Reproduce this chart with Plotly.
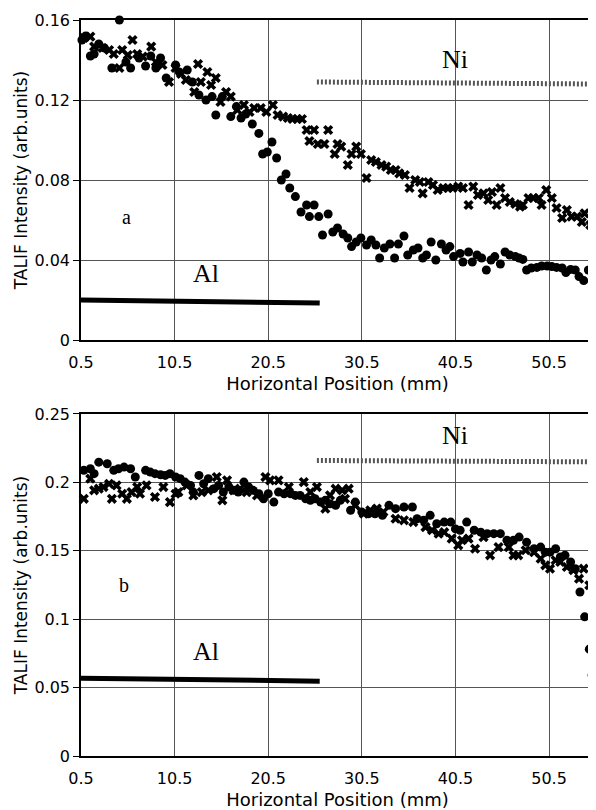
import plotly.graph_objects as go

# PANEL A - puntos (circulos) y cruces
a_dot_x = [0.6, 1.0, 1.5, 1.9, 2.4, 3.0, 3.8, 4.6, 5.3, 5.8, 6.7, 7.4, 7.95, 8.5, 9.0, 9.6, 10.6, 11.0,
           11.85, 12.4, 13.1, 13.85, 14.5, 14.9, 15.6, 16.5, 17.1, 17.6, 18.1, 18.8, 19.5, 19.9, 20.4,
           20.9, 21.4, 21.9, 22.4, 22.8, 23.4, 24.0, 24.6, 24.9, 25.4, 25.9, 26.3, 26.9, 27.4, 27.9,
           28.5, 29.0, 29.4, 29.9, 30.4, 31.0, 31.5, 32.0, 32.4, 32.9, 33.5, 34.0, 34.4, 35.0, 35.4,
           36.0, 36.5, 37.0, 37.4, 37.9, 38.4, 39.0, 39.5, 39.9, 40.3, 41.0, 41.3, 41.9, 42.3, 42.8,
           43.3, 43.8, 44.3, 44.7, 45.3, 45.8, 46.3, 46.9, 47.3, 47.7, 48.1, 48.6, 49.2, 49.7, 50.3,
           50.8, 51.3, 51.9, 52.3, 52.8, 53.3, 53.7, 54.2, 54.7, 55.2]
a_dot_y = [0.150, 0.152, 0.142, 0.143, 0.148, 0.146, 0.136, 0.160, 0.139, 0.136, 0.141, 0.137, 0.142,
           0.136, 0.141, 0.131, 0.1375, 0.134, 0.135, 0.129, 0.1225, 0.120, 0.1217, 0.1125, 0.1217,
           0.1117, 0.1167, 0.111, 0.113, 0.108, 0.1033, 0.093, 0.094, 0.099, 0.091, 0.080, 0.083,
           0.076, 0.0717, 0.064, 0.0675, 0.0617, 0.0675, 0.0617, 0.0525, 0.063, 0.054, 0.056, 0.053,
           0.051, 0.0467, 0.049, 0.051, 0.0475, 0.050, 0.0475, 0.041, 0.046, 0.048, 0.041, 0.048,
           0.052, 0.0425, 0.045, 0.046, 0.041, 0.0425, 0.049, 0.040, 0.048, 0.045, 0.0467, 0.0417,
           0.0433, 0.039, 0.044, 0.039, 0.0425, 0.041, 0.035, 0.040, 0.0417, 0.038, 0.044, 0.0425,
           0.0417, 0.041, 0.0403, 0.035, 0.036, 0.0363, 0.037, 0.037, 0.0367, 0.0363, 0.036, 0.0337,
           0.0353, 0.035, 0.0317, 0.0297, 0.035, 0.0367]

a_cross_x = [0.8, 1.5, 1.9, 2.8, 3.5, 4.0, 4.6, 4.9, 5.5, 6.0, 6.5, 7.1, 8.0, 8.5, 9.2, 9.9, 10.6, 11.2,
             11.7, 12.6, 13.0, 13.3, 14.0, 14.4, 14.9, 15.4, 16.0, 16.5, 17.2, 17.9, 18.5, 19.0, 19.7,
             20.3, 21.0, 21.5, 22.1, 22.6, 23.1, 23.6, 24.1, 24.6, 24.9, 25.4, 25.8, 26.5, 26.9, 27.6,
             27.9, 28.3, 29.0, 29.4, 29.9, 30.4, 31.0, 31.5, 32.0, 32.6, 33.1, 33.6, 34.1, 34.5, 35.1,
             35.6, 36.2, 36.7, 37.0, 37.6, 38.1, 38.6, 39.2, 39.7, 40.2, 40.8, 41.3, 41.9, 42.4, 42.9,
             43.5, 44.0, 44.4, 44.9, 45.3, 45.8, 46.3, 46.9, 47.4, 47.7, 48.3, 48.8, 49.4, 49.7, 50.2,
             50.8, 51.3, 51.9, 52.4, 52.9, 53.5, 54.0, 54.3, 54.9, 55.4]
a_cross_y = [0.151, 0.1517, 0.1467, 0.146, 0.145, 0.143, 0.136, 0.145, 0.1425, 0.150, 0.143, 0.1417,
             0.1467, 0.139, 0.1375, 0.129, 0.136, 0.133, 0.130, 0.124, 0.138, 0.129, 0.134, 0.1275,
             0.131, 0.119, 0.124, 0.1217, 0.115, 0.1175, 0.114, 0.116, 0.116, 0.114, 0.1175, 0.1125,
             0.1117, 0.111, 0.1105, 0.1105, 0.1105, 0.105, 0.0995, 0.105, 0.098, 0.098, 0.105, 0.093,
             0.098, 0.0967, 0.0875, 0.093, 0.0967, 0.093, 0.081, 0.090, 0.089, 0.0875, 0.0867, 0.085,
             0.085, 0.0833, 0.0825, 0.076, 0.080, 0.079, 0.0733, 0.079, 0.0775, 0.075, 0.076, 0.076,
             0.076, 0.0767, 0.076, 0.0675, 0.0767, 0.0725, 0.0733, 0.070, 0.074, 0.0675, 0.076, 0.071,
             0.069, 0.068, 0.0667, 0.0675, 0.071, 0.071, 0.071, 0.0675, 0.075, 0.071, 0.066, 0.061,
             0.065, 0.0617, 0.0617, 0.059, 0.0633, 0.0575, 0.053]

# PANEL B
b_dot_x = [0.8, 1.5, 1.9, 2.4, 3.3, 4.0, 4.5, 5.1, 5.8, 6.3, 7.4, 7.9, 8.4, 9.0, 9.5, 10.0, 10.6, 11.1,
           11.6, 12.2, 12.5, 13.1, 13.6, 14.1, 14.7, 15.2, 15.7, 16.3, 16.8, 17.3, 17.9, 18.4, 18.9,
           19.5, 20.0, 20.5, 21.1, 21.6, 22.2, 22.9, 23.4, 23.9, 24.5, 25.0, 25.5, 26.1, 26.6, 27.1,
           27.7, 28.2, 29.3, 29.8, 30.5, 31.2, 31.9, 32.7, 33.4, 34.1, 35.0, 35.9, 36.4, 37.1, 37.8,
           38.5, 39.3, 40.0, 40.5, 41.0, 41.7, 42.5, 43.2, 43.9, 44.6, 45.3, 46.0, 46.7, 47.3, 48.1,
           48.9, 49.6, 50.1, 50.6, 51.2, 51.7, 52.2, 52.8, 53.3, 53.8, 54.3, 54.8, 55.1]
b_dot_y = [0.2088, 0.210, 0.2064, 0.2148, 0.2136, 0.2088, 0.210, 0.2112, 0.210, 0.2039, 0.2088, 0.2075,
           0.2064, 0.2056, 0.2051, 0.2064, 0.2039, 0.2027, 0.2002, 0.1978, 0.1929, 0.2051, 0.199,
           0.2027, 0.1954, 0.1978, 0.1929, 0.1966, 0.1942, 0.1929, 0.2002, 0.1966, 0.1942, 0.1917,
           0.188, 0.1917, 0.1856, 0.1929, 0.1917, 0.1917, 0.1905, 0.1905, 0.188, 0.1869, 0.188,
           0.1856, 0.1869, 0.1844, 0.1832, 0.1869, 0.1796, 0.1856, 0.1783, 0.1771, 0.1771, 0.1759,
           0.1832, 0.1808, 0.182, 0.182, 0.1734, 0.1723, 0.1759, 0.1698, 0.171, 0.171, 0.166, 0.165,
           0.171, 0.165, 0.1636, 0.1625, 0.1625, 0.1625, 0.1577, 0.1577, 0.160, 0.1563, 0.1515,
           0.1527, 0.149, 0.149, 0.1515, 0.1455, 0.1467, 0.1418, 0.1369, 0.1199, 0.1017, 0.0781, 0.0591]

b_cross_x = [0.8, 1.5, 1.9, 2.4, 2.9, 3.5, 3.8, 4.3, 4.9, 5.4, 5.9, 6.5, 6.8, 7.5, 8.4, 9.3, 10.0, 10.6,
             10.9, 11.8, 12.5, 13.4, 14.1, 15.0, 15.6, 16.1, 16.8, 17.5, 18.2, 19.3, 20.2, 20.7, 21.6,
             22.7, 24.3, 25.0, 25.7, 26.6, 27.1, 27.7, 28.4, 28.7, 29.1, 29.8, 30.7, 31.4, 32.1, 32.8,
             34.1, 35.0, 36.0, 37.3, 38.0, 38.7, 39.3, 40.1, 40.8, 41.2, 41.9, 42.6, 43.5, 44.2, 45.1,
             46.2, 46.7, 47.2, 48.0, 48.9, 49.6, 50.1, 50.6, 51.2, 51.7, 52.4, 53.1, 53.7, 54.2, 54.8,
             55.3]
b_cross_y = [0.188, 0.2027, 0.1942, 0.1954, 0.1966, 0.199, 0.188, 0.1978, 0.1917, 0.188, 0.1929,
             0.1966, 0.1917, 0.1978, 0.1893, 0.1966, 0.1856, 0.1917, 0.1929, 0.1978, 0.1905, 0.1929,
             0.1942, 0.2039, 0.1869, 0.2015, 0.1942, 0.1954, 0.1929, 0.1905, 0.2039, 0.2015, 0.2015,
             0.1966, 0.2002, 0.1929, 0.1966, 0.1808, 0.1905, 0.1954, 0.1942, 0.188, 0.1954, 0.1832,
             0.1771, 0.1796, 0.1808, 0.1783, 0.1734, 0.1723, 0.171, 0.1673, 0.165, 0.1625, 0.1636,
             0.1589, 0.154, 0.1577, 0.1589, 0.1515, 0.160, 0.1467, 0.1527, 0.1527, 0.1467, 0.1467,
             0.1504, 0.149, 0.1442, 0.1394, 0.1369, 0.1431, 0.1418, 0.1382, 0.1358, 0.1296, 0.1369,
             0.1248, 0.1236]

# BARRAS DE MATERIAL (Al / Ni)
al_x = [0.5, 26.0]
al_a_y = [0.0200, 0.0185]
al_b_y = [0.0569, 0.0547]
ni_x = [25.7, 55.3]
ni_a_y = [0.129, 0.128]
ni_b_y = [0.216, 0.215]

xticks = [0.5, 10.5, 20.5, 30.5, 40.5, 50.5]
a_yticks = [0, 0.04, 0.08, 0.12, 0.16]
a_yticktext = ['0', '0.04', '0.08', '0.12', '0.16']
b_yticks = [0, 0.05, 0.1, 0.15, 0.2, 0.25]
b_yticktext = ['0', '0.05', '0.1', '0.15', '0.2', '0.25']

sans = 'DejaVu Sans'
serif = 'Liberation Serif'

fig = go.Figure()

for xs, ys, sym, xa, ya in [
    (a_dot_x, a_dot_y, 'circle', 'x', 'y'),
    (a_cross_x, a_cross_y, 'x', 'x', 'y'),
    (b_dot_x, b_dot_y, 'circle', 'x2', 'y2'),
    (b_cross_x, b_cross_y, 'x', 'x2', 'y2'),
]:
    fig.add_trace(go.Scatter(x=xs, y=ys, mode='markers', xaxis=xa, yaxis=ya,
                             marker=dict(symbol=sym, size=9, color='black', line=dict(width=0)),
                             cliponaxis=False, showlegend=False))

for ys, xa, ya in [(al_a_y, 'x', 'y'), (al_b_y, 'x2', 'y2')]:
    fig.add_trace(go.Scatter(x=al_x, y=ys, mode='lines', xaxis=xa, yaxis=ya,
                             line=dict(color='black', width=5), showlegend=False))
for ys, xa, ya in [(ni_a_y, 'x', 'y'), (ni_b_y, 'x2', 'y2')]:
    fig.add_trace(go.Scatter(x=ni_x, y=ys, mode='lines', xaxis=xa, yaxis=ya,
                             line=dict(color='#555555', width=5, dash='2px,2px'), showlegend=False))

ax_common = dict(showline=True, linecolor='black', linewidth=1.5, mirror=True, automargin=False,
                 showgrid=True, gridcolor='#555555', gridwidth=1, zeroline=False,
                 tickfont=dict(family=sans, size=16, color='black'))
xtitle = dict(text='Horizontal Position (mm)', font=dict(family=sans, size=18, color='black'), standoff=6)
ytitle = dict(text='TALIF Intensity (arb.units)', font=dict(family=sans, size=17, color='black'), standoff=2)

# la pagina tiene 8px de margen en el body: se compensa aqui
fig.update_layout(
    width=588, height=802,
    margin=dict(l=73, r=2, t=12, b=54),
    paper_bgcolor='white', plot_bgcolor='white',
    xaxis=dict(domain=[0, 1], range=[0.5, 55.3], tickvals=xticks, anchor='y', ticks='',
               ticklabelstandoff=7, title=xtitle, **ax_common),
    yaxis=dict(domain=[0.5652, 1], range=[0, 0.16], tickvals=a_yticks, ticktext=a_yticktext,
               anchor='x', ticks='outside', ticklen=6, tickcolor='black', title=ytitle, **ax_common),
    xaxis2=dict(domain=[0, 1], range=[0.5, 55.3], tickvals=xticks, anchor='y2', ticks='',
                ticklabelstandoff=7, title=xtitle, **ax_common),
    yaxis2=dict(domain=[0, 0.4647], range=[0, 0.25], tickvals=b_yticks, ticktext=b_yticktext,
                anchor='x2', ticks='outside', ticklen=6, tickcolor='black', title=ytitle, **ax_common),
)

# ETIQUETAS
labels = [
    ('Ni', 40.5, 0.1405, 'x', 'y', 26),
    ('Al', 13.8, 0.0335, 'x', 'y', 26),
    ('a', 5.4, 0.0615, 'x', 'y', 20),
    ('Ni', 40.5, 0.2345, 'x2', 'y2', 26),
    ('Al', 13.8, 0.0766, 'x2', 'y2', 26),
    ('b', 5.1, 0.1248, 'x2', 'y2', 20),
]
for txt, x, y, xr, yr, sz in labels:
    fig.add_annotation(text=txt, x=x, y=y, xref=xr, yref=yr, showarrow=False,
                       font=dict(family=serif, size=sz, color='black'))

fig.write_html("out.html")
